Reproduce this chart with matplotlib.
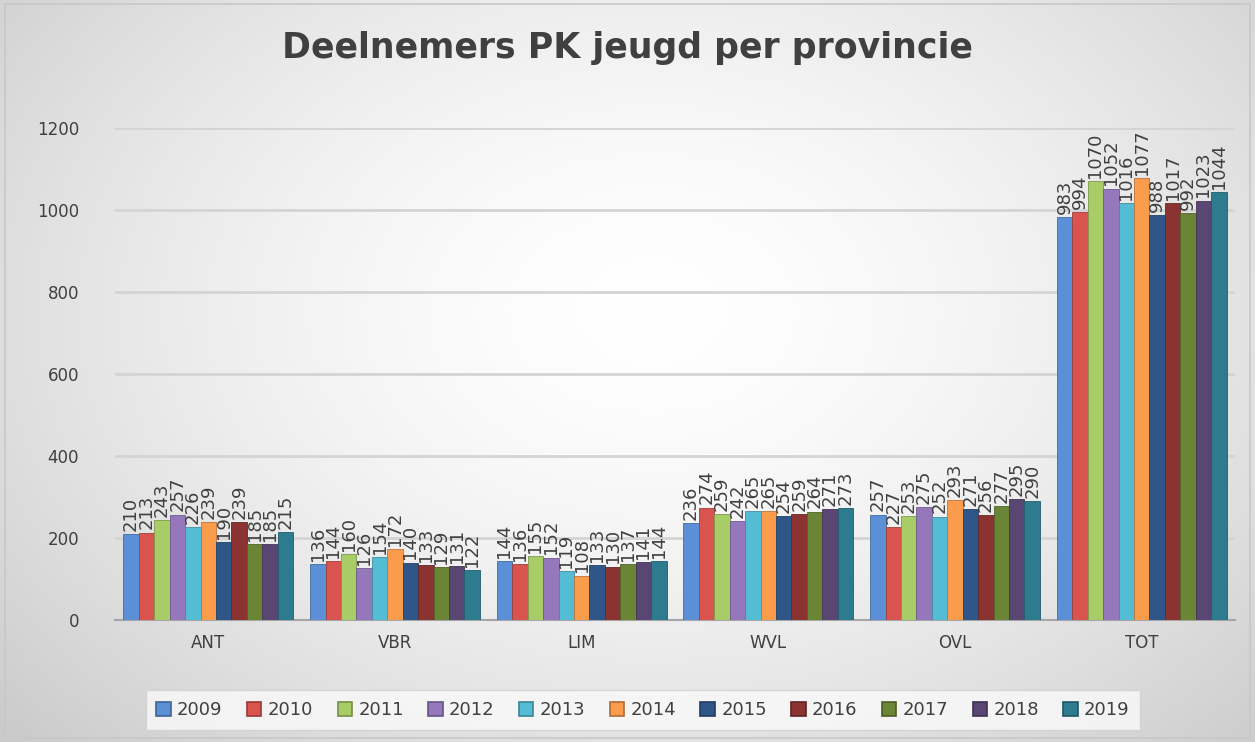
import numpy as np
import matplotlib
matplotlib.use("Agg")
from matplotlib import pyplot as plt
from matplotlib.patches import Rectangle
from matplotlib.colors import to_rgb

provinces = ['ANT', 'VBR', 'LIM', 'WVL', 'OVL', 'TOT']
years = ['2009', '2010', '2011', '2012', '2013', '2014', '2015', '2016', '2017', '2018', '2019']

# deelnemers per provincie, one list per year (same order as provinces)
y2009 = [210, 136, 144, 236, 257, 983]
y2010 = [213, 144, 136, 274, 227, 994]
y2011 = [243, 160, 155, 259, 253, 1070]
y2012 = [257, 126, 152, 242, 275, 1052]
y2013 = [226, 154, 119, 265, 252, 1016]
y2014 = [239, 172, 108, 265, 293, 1077]
y2015 = [190, 140, 133, 254, 271, 988]
y2016 = [239, 133, 130, 259, 256, 1017]
y2017 = [185, 129, 137, 264, 277, 992]
y2018 = [185, 131, 141, 271, 295, 1023]
y2019 = [215, 122, 144, 273, 290, 1044]
series = [y2009, y2010, y2011, y2012, y2013, y2014, y2015, y2016, y2017, y2018, y2019]

colors = ['#5b8fd6', '#d9534f', '#a8cc66', '#9478bb', '#55bcd6', '#fb9b4c',
          '#2f5689', '#8a3330', '#6a8535', '#5a4672', '#2d7b8e']


def darker(c, f=0.7):
    return tuple(v * f for v in to_rgb(c))


W, H = 12.55, 7.42
fig = plt.figure(figsize=(W, H), dpi=100)

# radial background, white in the middle and grey towards the edges
bg = fig.add_axes([0, 0, 1, 1], zorder=-10)
gx, gy = np.meshgrid(np.linspace(0, 1, 400), np.linspace(0, 1, 240))
r = np.sqrt(((gx - 0.52) / 0.62) ** 2 + ((gy - 0.42) / 0.75) ** 2)
shade = 1.0 - 0.17 * np.clip(r, 0, 1.3) ** 1.6
bg.imshow(np.dstack([shade] * 3), extent=[0, 1, 0, 1], aspect='auto', origin='upper')
bg.add_patch(Rectangle((0.004, 0.006), 0.992, 0.988, transform=bg.transAxes,
                       fill=False, edgecolor='#c8c8c8', lw=1.2))
bg.set_axis_off()

ax = fig.add_axes([115 / 1255, 1 - 620 / 742, 1120 / 1255, 492 / 742])
ax.patch.set_alpha(0)

x = np.arange(len(provinces))
n = len(series)
group_w = 0.91
bw = group_w / n
for i, (vals, col) in enumerate(zip(series, colors)):
    pos = x - group_w / 2 + bw * (i + 0.5)
    bars = ax.bar(pos, vals, width=bw, color=col, edgecolor=darker(col, 0.75), linewidth=0.6, zorder=3)
    for b, v in zip(bars, vals):
        ax.text(b.get_x() + b.get_width() / 2, v + 8, str(v), rotation=90,
                ha='center', va='bottom', fontsize=13, color='#404040',
                zorder=5, clip_on=False)

ax.set_ylim(0, 1200)
ax.set_xlim(-0.5, len(provinces) - 0.5)
ax.set_yticks(range(0, 1201, 200))
ax.set_xticks(x)
ax.set_xticklabels(provinces)
ax.tick_params(axis='both', length=0, labelsize=12, labelcolor='#404040')
ax.tick_params(axis='x', pad=10)
ax.tick_params(axis='y', pad=26)
ax.grid(axis='y', color='#d4d4d4', linewidth=2, zorder=0)
for s in ['top', 'right', 'left']:
    ax.spines[s].set_visible(False)
ax.spines['bottom'].set_color('#a6a6a6')
ax.spines['bottom'].set_linewidth(1.5)

fig.text(0.5, 1 - 48 / 742, 'Deelnemers PK jeugd per provincie', ha='center', va='center',
         fontsize=25, fontweight='bold', color='#404040')

handles = [Rectangle((0, 0), 1, 1, facecolor=c, edgecolor=darker(c, 0.7), lw=1.2) for c in colors]
leg = fig.legend(handles, years, loc='center', ncol=n, bbox_to_anchor=(643 / 1255, 1 - 710 / 742),
                 fontsize=13, handlelength=0.8, handleheight=0.8, handletextpad=0.35,
                 columnspacing=1.35, frameon=True, fancybox=False, borderpad=0.6)
leg.get_frame().set_edgecolor('#d0d0d0')
leg.get_frame().set_facecolor('#fafafa')
leg.get_frame().set_linewidth(1.0)
for t in leg.get_texts():
    t.set_color('#404040')

fig.savefig('out.png', dpi=100)
